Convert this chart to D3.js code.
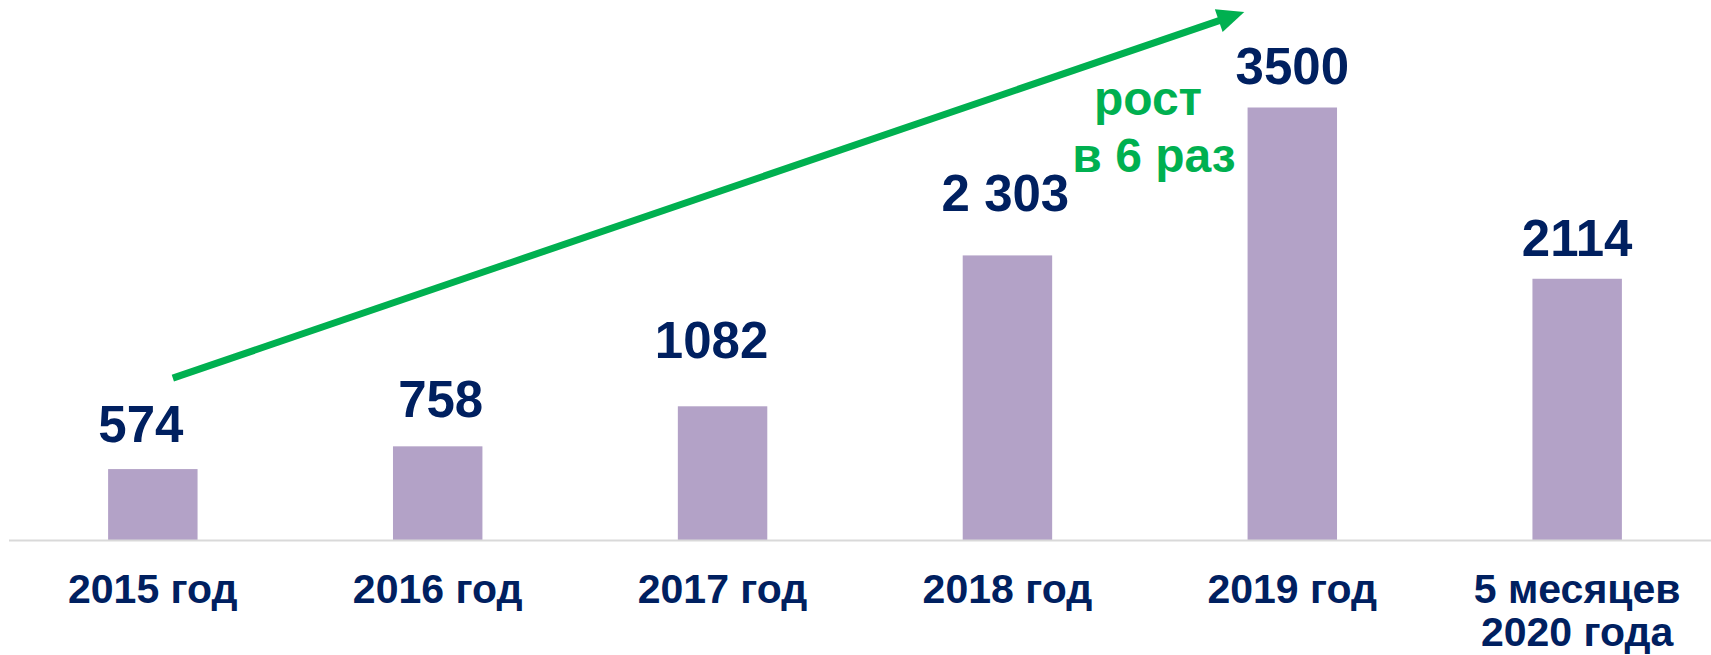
<!DOCTYPE html>
<html>
  <head>
    <meta charset="utf-8" />
    <title>Рост в 6 раз</title>
    <script src="https://d3js.org/d3.v7.min.js"></script>
    <style>
      body { margin: 0; background: #fff; }
      text { font-family: "Liberation Sans", Arial, sans-serif; font-weight: bold; }
    </style>
  </head>
  <body>
    <svg id="chart" width="1711" height="655"></svg>

    <script>
        // data
        var categories = ["2015 год", "2016 год", "2017 год", "2018 год", "2019 год", "5 месяцев\n2020 года"];
        var values = [574, 758, 1082, 2303, 3500, 2114];
        var valueLabels = ["574", "758", "1082", "2 303", "3500", "2114"];

        var navy = "#002060",
            green = "#00b050",
            barColor = "#b3a2c7";

        var svg = d3.select("#chart");

        // band scale: step ~285px, bars ~89.5px wide
        var x = d3.scaleBand()
            .domain(categories)
            .range([10.4, 1719.6])
            .paddingInner(0.686)
            .paddingOuter(0.343);

        var y = d3.scaleLinear()
            .domain([0, 3500])
            .range([540, 107.5]);

        // the labels were nudged by hand in the original slide
        var nudge = [[-12, 27], [3, 29], [-11, 48], [-2, 44], [0, 24], [0, 23]];

        // bars
        svg.selectAll("rect.bar")
            .data(values)
            .enter().append("rect")
            .attr("class", "bar")
            .attr("x", function(d, i) { return x(categories[i]); })
            .attr("y", function(d) { return y(d); })
            .attr("width", x.bandwidth())
            .attr("height", function(d) { return y(0) - y(d); })
            .style("fill", barColor);

        // baseline
        svg.append("line")
            .attr("x1", 9).attr("x2", 1711)
            .attr("y1", y(0) + 0.5).attr("y2", y(0) + 0.5)
            .style("stroke", "#d9d9d9")
            .style("stroke-width", 2);

        // value labels
        svg.selectAll("text.val")
            .data(values)
            .enter().append("text")
            .attr("class", "val")
            .attr("x", function(d, i) { return x(categories[i]) + x.bandwidth() / 2 + nudge[i][0]; })
            .attr("y", function(d, i) { return y(d) - nudge[i][1]; })
            .attr("text-anchor", "middle")
            .style("font-size", "51px")
            .style("fill", navy)
            .text(function(d, i) { return valueLabels[i]; });

        // category labels (may have two lines)
        var cats = svg.selectAll("text.cat")
            .data(categories)
            .enter().append("text")
            .attr("class", "cat")
            .attr("text-anchor", "middle")
            .attr("y", 603)
            .style("font-size", "41px")
            .style("fill", navy);

        cats.each(function(d) {
            var t = d3.select(this);
            var cx = x(d) + x.bandwidth() / 2;
            d.split("\n").forEach(function(line, k) {
                t.append("tspan")
                    .attr("x", cx)
                    .attr("dy", k === 0 ? 0 : 43)
                    .text(line);
            });
        });

        // growth arrow, from above the first bar to above the 2019 bar
        var x0 = x(categories[0]) + x.bandwidth() / 2 + 20,
            y0 = y(1310),
            x1 = x(categories[4]) + x.bandwidth() / 2 - 48,
            y1 = 12;
        var ang = Math.atan2(y1 - y0, x1 - x0);
        var headLen = 27, headHalf = 12;
        var bx = x1 - headLen * Math.cos(ang),
            by = y1 - headLen * Math.sin(ang);

        svg.append("line")
            .attr("x1", x0).attr("y1", y0)
            .attr("x2", bx + 2 * Math.cos(ang)).attr("y2", by + 2 * Math.sin(ang))
            .style("stroke", green)
            .style("stroke-width", 7);

        svg.append("polygon")
            .attr("points", [
                [x1, y1],
                [bx - headHalf * Math.sin(ang), by + headHalf * Math.cos(ang)],
                [bx + headHalf * Math.sin(ang), by - headHalf * Math.cos(ang)]
            ].map(function(p) { return p.join(","); }).join(" "))
            .style("fill", green);

        // annotation
        var note = svg.append("text")
            .attr("text-anchor", "middle")
            .style("font-size", "48px")
            .style("fill", green);
        note.append("tspan").attr("x", 1148).attr("y", 115).text("рост");
        note.append("tspan").attr("x", 1154).attr("y", 172).text("в 6 раз");
    </script>
  </body>
</html>
